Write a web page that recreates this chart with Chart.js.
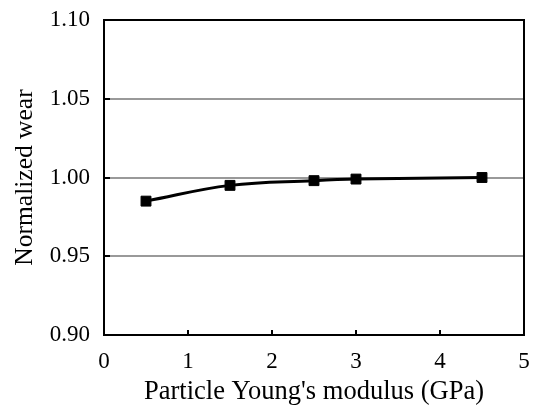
<!DOCTYPE html>
<html>
<head>
<meta charset="utf-8">
<script src="https://cdn.jsdelivr.net/npm/chart.js@4/dist/chart.umd.min.js"></script>
<style>
  html, body { margin: 0; padding: 0; background: #fff; }
  #wrap { width: 533px; height: 408px; }
</style>
</head>
<body>
<div id="wrap"><canvas id="wearChart"></canvas></div>
<script>
// particle Young's modulus (GPa) vs normalized wear
const modulus = [0.5, 1.5, 2.5, 3.0, 4.5];
const wear = [0.985, 0.995, 0.998, 0.999, 1.000];
const xTicks = [0, 1, 2, 3, 4, 5];
const yTicks = [0.90, 0.95, 1.00, 1.05, 1.10];

const FONT = "'Liberation Serif', 'Times New Roman', serif";

// frame round the plot plus short inward tick marks
const frameTicks = {
  id: 'frameTicks',
  afterDatasetsDraw(chart) {
    const { ctx, chartArea: a, scales } = chart;
    ctx.save();
    ctx.strokeStyle = '#000';
    ctx.lineWidth = 2;
    ctx.beginPath();
    xTicks.forEach(v => {
      const px = Math.round(scales.x.getPixelForValue(v));
      ctx.moveTo(px, a.bottom);
      ctx.lineTo(px, a.bottom - 5);
    });
    yTicks.forEach(v => {
      const py = Math.round(scales.y.getPixelForValue(v));
      ctx.moveTo(a.left, py);
      ctx.lineTo(a.left + 6, py);
    });
    ctx.stroke();
    ctx.strokeRect(a.left, a.top, a.right - a.left, a.bottom - a.top);
    ctx.restore();
  }
};

new Chart(document.getElementById('wearChart'), {
  type: 'scatter',
  data: {
    datasets: [{
      data: modulus.map((m, i) => ({ x: m, y: wear[i] })),
      showLine: true,
      borderColor: '#000',
      backgroundColor: '#000',
      borderWidth: 3,
      tension: 0.4,
      pointStyle: 'rect',
      pointRadius: 7,
      pointBorderWidth: 1,
      pointHoverRadius: 7
    }]
  },
  options: {
    responsive: true,
    maintainAspectRatio: false,
    animation: false,
    events: [],
    layout: { padding: 0 },
    plugins: {
      legend: { display: false },
      tooltip: { enabled: false }
    },
    scales: {
      x: {
        type: 'linear',
        min: 0,
        max: 5,
        afterBuildTicks: s => { s.ticks = xTicks.map(v => ({ value: v })); },
        afterFit: s => {
          s.height = 73;
          s.paddingLeft = 0;
          s.paddingRight = 9;
        },
        grid: { display: false, drawTicks: false },
        border: { display: false },
        ticks: {
          color: '#000',
          padding: 13,
          maxRotation: 0,
          font: { family: FONT, size: 23 },
          callback: v => String(v)
        },
        title: {
          display: true,
          text: "Particle Young's modulus (GPa)",
          color: '#000',
          padding: { top: 0, bottom: 0 },
          font: { family: FONT, size: 26.5 }
        }
      },
      y: {
        type: 'linear',
        min: 0.9,
        max: 1.1,
        afterBuildTicks: s => { s.ticks = yTicks.map(v => ({ value: v })); },
        afterFit: s => {
          s.width = 104;
          s.paddingTop = 20;
          s.paddingBottom = 0;
        },
        grid: {
          drawTicks: false,
          lineWidth: 2,
          color: c => (c.tick && (c.tick.value === 0.9 || c.tick.value === 1.1)) ? 'rgba(0,0,0,0)' : '#999'
        },
        border: { display: false },
        ticks: {
          color: '#000',
          padding: 14,
          font: { family: FONT, size: 23 },
          callback: v => v.toFixed(2)
        },
        title: {
          display: true,
          text: 'Normalized wear',
          color: '#000',
          padding: { top: 10, bottom: 4 },
          font: { family: FONT, size: 25.5 }
        }
      }
    }
  },
  plugins: [frameTicks]
});
</script>
</body>
</html>
